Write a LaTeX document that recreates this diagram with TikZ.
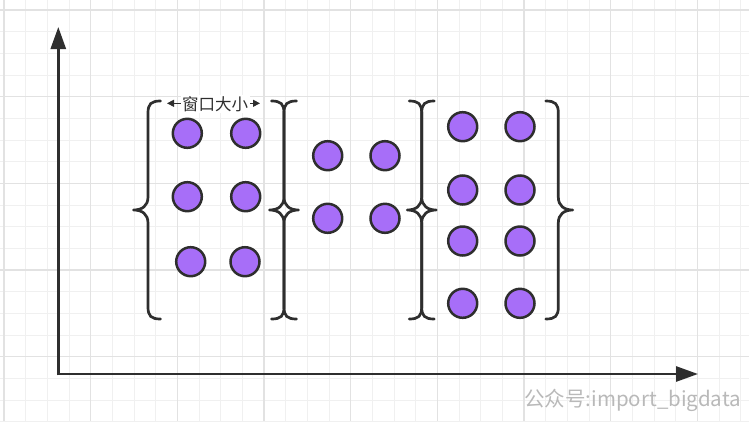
\documentclass[tikz,border=0pt]{standalone}
\usepackage{fontspec}
\newfontfamily\cjk{Noto Sans CJK SC}
\usetikzlibrary{arrows.meta}
\definecolor{gridminor}{RGB}{240,240,240}
\definecolor{gridmajor}{RGB}{226,226,226}
\definecolor{ink}{RGB}{46,46,46}
\definecolor{ballfill}{RGB}{167,110,248}
\definecolor{wm}{RGB}{185,185,185}
\tikzset{
  ball/.style={circle,draw=ink,fill=ballfill,line width=2.5pt,minimum size=29pt,inner sep=0pt},
  axis/.style={draw=ink,line width=2.7pt,-{Triangle[length=22pt,width=15pt]}},
  bracestyle/.style={draw=ink,line width=2.7pt,line cap=round,line join=round},
  lbr/.pic={\path[bracestyle] (12.5,-109) .. controls (3,-109) and (0,-106) .. (0,-97) -- (0,-13) .. controls (0,-4) and (-6,0) .. (-14.5,0) .. controls (-6,0) and (0,4) .. (0,13) -- (0,97) .. controls (0,106) and (3,109) .. (12.5,109);},
  rbr/.pic={\begin{scope}[xscale=-1]\path[bracestyle] (12.5,-109) .. controls (3,-109) and (0,-106) .. (0,-97) -- (0,-13) .. controls (0,-4) and (-6,0) .. (-14.5,0) .. controls (-6,0) and (0,4) .. (0,13) -- (0,97) .. controls (0,106) and (3,109) .. (12.5,109);\end{scope}},
  lbl/.style={font=\cjk\fontsize{16.5}{16.5}\selectfont,text=ink,fill=white,inner sep=1.5pt},
  wmk/.style={font=\cjk\fontsize{20.5}{20.5}\selectfont,text=wm,inner sep=0pt,anchor=east}
}
\begin{document}
\begin{tikzpicture}[x=1pt,y=-1pt]
\useasboundingbox (0,0) rectangle (749,421);
\fill[white] (0,0) rectangle (749,421);
% grid
\foreach \k in {0,...,34}{\draw[gridminor,line width=1pt] ({4+21.667*\k},0) -- ({4+21.667*\k},421);}
\foreach \k in {0,...,19}{\draw[gridminor,line width=1pt] (0,{10+21.667*\k}) -- (749,{10+21.667*\k});}
\foreach \k in {0,...,8}{\draw[gridmajor,line width=1.3pt] ({4+86.667*\k},0) -- ({4+86.667*\k},421);}
\foreach \k in {0,...,4}{\draw[gridmajor,line width=1.3pt] (0,{10+86.667*\k}) -- (749,{10+86.667*\k});}
% axes
\coordinate (O) at (58.3,374);
\coordinate (Ytip) at (58.3,27);
\coordinate (Xtip) at (698,374);
\draw[axis] ([yshift=-1.35pt]O) -- (Ytip);
\draw[axis] ([xshift=-1.35pt]O) -- (Xtip);
% braces
\pic at (148,210) {lbr};
\pic at (284,210) {rbr};
\pic at (284,210) {lbr};
\pic at (421.7,210) {rbr};
\pic at (421.7,210) {lbr};
\pic at (558.3,210) {rbr};
% window 1
\node[ball] (a1) at (187.3,133.3) {};
\node[ball] (a2) at (245.7,133.3) {};
\node[ball] (a3) at (187.3,196.7) {};
\node[ball] (a4) at (245.7,196.7) {};
\node[ball] (a5) at (190.7,261.7) {};
\node[ball] (a6) at (245,261.7) {};
% window 2
\node[ball] (b1) at (327.7,155.7) {};
\node[ball] (b2) at (385,155.7) {};
\node[ball] (b3) at (327.7,218.3) {};
\node[ball] (b4) at (385,218.3) {};
% window 3
\node[ball] (c1) at (462.7,126.7) {};
\node[ball] (c2) at (520,126.7) {};
\node[ball] (c3) at (462.7,190) {};
\node[ball] (c4) at (520,190) {};
\node[ball] (c5) at (462.7,241) {};
\node[ball] (c6) at (520,241) {};
\node[ball] (c7) at (462.7,303.3) {};
\node[ball] (c8) at (520,303.3) {};
% window size label
\coordinate (wl) at (167,103.3);
\coordinate (wr) at (260,103.3);
\draw[ink,line width=1pt,{Triangle[length=7pt,width=7pt]}-{Triangle[length=7pt,width=7pt]}] (wl) -- (wr);
\node[lbl] (wlabel) at (215,104) {窗口大小};
% watermark
\node[wmk] (wmark) at (741,400) {公众号:import\_bigdata};
\end{tikzpicture}
\end{document}
